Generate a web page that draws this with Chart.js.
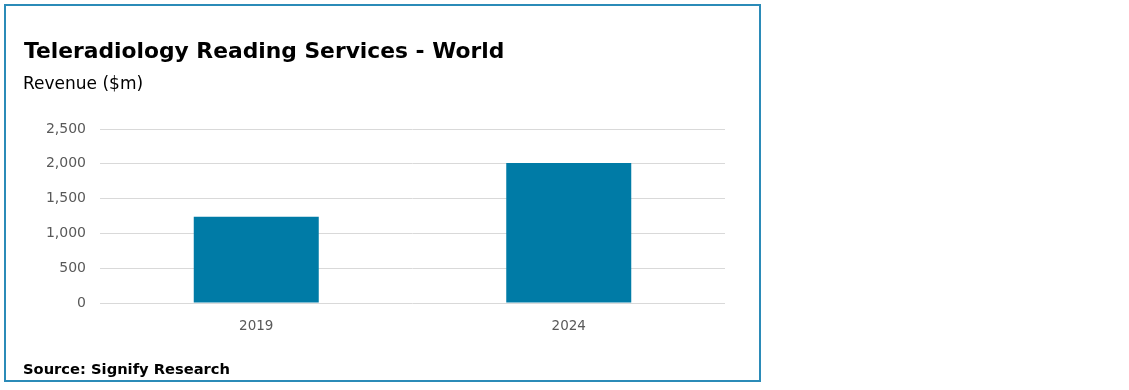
<!DOCTYPE html>
<html>
<head>
<meta charset="utf-8">
<script src="https://cdn.jsdelivr.net/npm/chart.js@4.4.1/dist/chart.umd.min.js"></script>
<style>
  html, body { margin:0; padding:0; background:#ffffff; width:1129px; height:390px; overflow:hidden; }
  #wrap { position:relative; width:1129px; height:390px; }
  canvas { position:absolute; left:0; top:0; }
  .frame { position:absolute; left:4px; top:4px; width:757px; height:378px; box-sizing:border-box; border:2px solid #2b8bb8; pointer-events:none; }
  .txt { position:absolute; white-space:nowrap; font-family:"DejaVu Sans", Verdana, sans-serif; color:#000; }
  #title { left:24px; top:40px; font-size:21.8px; line-height:22px; font-weight:bold; }
  #subtitle { left:23px; top:75px; font-size:17px; line-height:17px; }
  #source { left:23px; top:361px; font-size:14.7px; line-height:15px; font-weight:bold; }
</style>
</head>
<body>
<div id="wrap">
  <canvas id="c" width="1129" height="390"></canvas>
  <div class="frame"></div>
  <div class="txt" id="title">Teleradiology Reading Services - World</div>
  <div class="txt" id="subtitle">Revenue ($m)</div>
  <div class="txt" id="source">Source: Signify Research</div>
</div>
<script>
const categories = ["2019", "2024"];
const revenue = [1240, 2010];
const yTicks = [0, 500, 1000, 1500, 2000, 2500];

const fmt = v => v.toLocaleString("en-US");

new Chart(document.getElementById("c"), {
  type: "bar",
  data: {
    labels: categories,
    datasets: [{
      label: "Revenue ($m)",
      data: revenue,
      backgroundColor: "#007ba6",
      borderWidth: 0,
      barPercentage: 0.8,
      categoryPercentage: 0.5
    }]
  },
  options: {
    responsive: false,
    animation: false,
    layout: { padding: { top: 129, right: 404, left: 0, bottom: 0 } },
    plugins: { legend: { display: false }, tooltip: { enabled: false }, title: { display: false } },
    scales: {
      x: {
        grid: { display: false, drawTicks: false },
        border: { display: false },
        ticks: { color: "#595959", font: { family: "DejaVu Sans", size: 13.5 }, padding: 15 },
        afterFit: s => { s.height = 87; }
      },
      y: {
        min: yTicks[0],
        max: yTicks[yTicks.length - 1],
        afterBuildTicks: s => { s.ticks = yTicks.map(v => ({ value: v })); },
        grid: { color: "#d9d9d9", lineWidth: 1, drawTicks: false },
        border: { display: false },
        ticks: { color: "#595959", font: { family: "DejaVu Sans", size: 14 }, padding: 14, callback: v => fmt(v) },
        afterFit: s => { s.width = 100; }
      }
    }
  }
});
</script>
</body>
</html>
